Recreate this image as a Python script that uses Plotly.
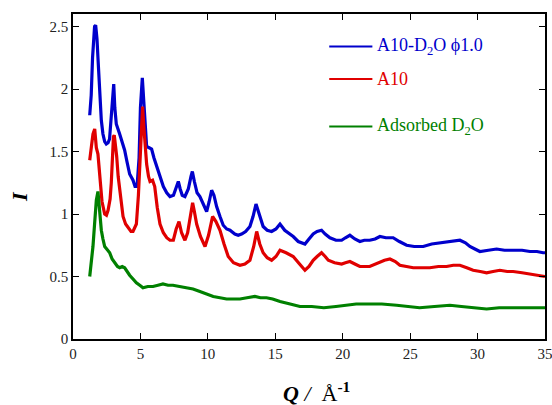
import plotly.graph_objects as go

# A10-D2O phi1.0 (blue)
q_blue = [1.24, 1.35, 1.45, 1.53, 1.60, 1.68, 1.78, 1.85, 1.98, 2.10, 2.22, 2.35, 2.47, 2.60, 2.71, 2.85, 2.95, 3.02, 3.10, 3.21,
          3.46, 3.65, 3.83, 4.00, 4.20, 4.45, 4.60, 4.75, 4.90, 5.00, 5.14, 5.25, 5.36, 5.46, 5.65, 5.83, 6.00, 6.20, 6.45, 6.70,
          6.95, 7.19, 7.45, 7.65, 7.81, 7.95, 8.10, 8.30, 8.55, 8.75, 8.85, 9.00, 9.20, 9.41, 9.65, 9.91, 10.10, 10.28, 10.45, 10.65,
          10.90, 11.14, 11.40, 11.64, 12.0, 12.25, 12.5, 12.8, 13.12, 13.35, 13.57, 13.80, 14.1, 14.4, 14.73, 15.05, 15.35, 15.7, 16.09, 16.33,
          16.7, 17.07, 17.2, 17.5, 17.81, 18.1, 18.43, 18.7, 19.05, 19.5, 19.92, 20.2, 20.53, 20.9, 21.27, 21.6, 22.0, 22.4, 22.76, 23.2,
          23.74, 24.2, 24.74, 25.3, 25.97, 26.6, 27.2, 27.9, 28.69, 29.1, 29.43, 29.8, 30.17, 30.8, 31.41, 32.0, 32.64, 33.3, 33.88, 34.4,
          34.86, 35.0]
i_blue = [1.79, 1.95, 2.25, 2.35, 2.50, 2.51, 2.40, 2.25, 1.94, 1.75, 1.64, 1.58, 1.56, 1.57, 1.60, 1.80, 2.00, 2.04, 1.85, 1.72,
          1.64, 1.58, 1.51, 1.42, 1.32, 1.27, 1.22, 1.22, 1.45, 1.85, 2.09, 1.90, 1.65, 1.54, 1.53, 1.52, 1.45, 1.38, 1.30, 1.22,
          1.17, 1.14, 1.15, 1.22, 1.26, 1.20, 1.15, 1.14, 1.20, 1.30, 1.34, 1.26, 1.17, 1.14, 1.08, 1.02, 1.10, 1.19, 1.15, 1.06,
          0.98, 0.91, 0.88, 0.87, 0.84, 0.83, 0.84, 0.86, 0.90, 0.98, 1.08, 1.00, 0.90, 0.87, 0.86, 0.88, 0.92, 0.87, 0.84, 0.82,
          0.78, 0.76, 0.76, 0.80, 0.84, 0.86, 0.87, 0.84, 0.81, 0.79, 0.79, 0.81, 0.83, 0.80, 0.78, 0.79, 0.79, 0.80, 0.82, 0.81,
          0.81, 0.78, 0.75, 0.74, 0.74, 0.76, 0.77, 0.78, 0.79, 0.77, 0.74, 0.72, 0.70, 0.71, 0.72, 0.71, 0.71, 0.71, 0.70, 0.70,
          0.69, 0.69]

# A10 (red)
q_red = [1.24, 1.35, 1.48, 1.61, 1.73, 1.85, 1.92, 1.98, 2.15, 2.35, 2.48, 2.60, 2.75, 2.84, 2.92, 3.00, 3.06, 3.15, 3.24, 3.35,
         3.48, 3.60, 3.71, 3.90, 4.10, 4.30, 4.45, 4.60, 4.70, 4.85, 4.95, 5.05, 5.16, 5.25, 5.35, 5.46, 5.60, 5.71, 5.90, 6.06,
         6.25, 6.45, 6.70, 6.95, 7.19, 7.44, 7.65, 7.86, 8.05, 8.30, 8.50, 8.70, 8.87, 9.00, 9.17, 9.45, 9.79, 10.05, 10.35, 10.6,
         10.9, 11.2, 11.51, 11.9, 12.38, 12.75, 13.12, 13.4, 13.62, 13.85, 14.1, 14.4, 14.73, 15.05, 15.35, 15.8, 16.33, 16.8, 17.2, 17.5,
         17.81, 18.1, 18.43, 18.7, 18.93, 19.4, 19.92, 20.2, 20.53, 20.9, 21.27, 22.0, 22.4, 22.76, 23.1, 23.5, 23.9, 24.24, 24.7, 25.23,
         25.8, 26.46, 27.1, 27.7, 28.2, 28.69, 29.2, 29.67, 30.2, 30.67, 31.15, 31.65, 32.2, 32.64, 33.3, 33.88, 34.4, 34.86, 35.0]
i_red = [1.43, 1.52, 1.64, 1.68, 1.53, 1.48, 1.38, 1.26, 1.10, 1.00, 0.99, 1.03, 1.12, 1.25, 1.50, 1.62, 1.63, 1.55, 1.46, 1.30,
         1.20, 1.07, 0.98, 0.92, 0.89, 0.86, 0.86, 0.89, 0.92, 1.15, 1.40, 1.70, 1.86, 1.70, 1.52, 1.40, 1.30, 1.26, 1.27, 1.22,
         1.05, 0.92, 0.85, 0.81, 0.79, 0.79, 0.88, 0.94, 0.85, 0.79, 0.85, 1.00, 1.09, 1.02, 0.92, 0.82, 0.74, 0.83, 0.98, 0.94,
         0.87, 0.76, 0.66, 0.61, 0.59, 0.60, 0.63, 0.74, 0.86, 0.76, 0.69, 0.65, 0.63, 0.66, 0.71, 0.69, 0.66, 0.60, 0.55, 0.58,
         0.63, 0.66, 0.69, 0.66, 0.63, 0.61, 0.60, 0.61, 0.62, 0.60, 0.58, 0.58, 0.60, 0.62, 0.63, 0.64, 0.62, 0.59, 0.58, 0.57,
         0.57, 0.57, 0.58, 0.58, 0.59, 0.59, 0.57, 0.55, 0.54, 0.53, 0.54, 0.55, 0.54, 0.54, 0.53, 0.52, 0.51, 0.50, 0.50]

# Adsorbed D2O (green)
q_green = [1.24, 1.36, 1.48, 1.60, 1.73, 1.85, 1.95, 2.10, 2.22, 2.35, 2.50, 2.72, 2.90, 3.09, 3.30, 3.46, 3.65, 3.83, 4.00, 4.20,
           4.45, 4.70, 4.95, 5.19, 5.55, 5.93, 6.30, 6.67, 7.05, 7.41, 7.90, 8.40, 8.9, 9.41, 9.9, 10.4, 10.9, 11.39, 11.9, 12.38,
           12.9, 13.49, 13.9, 14.35, 14.8, 15.35, 16.1, 16.83, 17.7, 18.6, 19.5, 20.3, 21.0, 21.74, 22.9, 24.0, 24.9, 25.7, 26.8, 27.95,
           28.8, 29.67, 30.67, 31.6, 32.64, 33.8, 34.86, 35.0]
i_green = [0.50, 0.62, 0.74, 0.92, 1.11, 1.18, 1.02, 0.87, 0.80, 0.74, 0.72, 0.69, 0.64, 0.61, 0.58, 0.57, 0.58, 0.57, 0.54, 0.51,
           0.48, 0.45, 0.43, 0.41, 0.42, 0.42, 0.43, 0.44, 0.43, 0.43, 0.42, 0.41, 0.40, 0.38, 0.36, 0.34, 0.33, 0.32, 0.32, 0.32,
           0.33, 0.34, 0.33, 0.33, 0.32, 0.30, 0.28, 0.26, 0.26, 0.25, 0.26, 0.27, 0.28, 0.28, 0.28, 0.27, 0.26, 0.25, 0.26, 0.27,
           0.26, 0.25, 0.24, 0.25, 0.25, 0.25, 0.25, 0.25]

x_ticks = [0, 5, 10, 15, 20, 25, 30, 35]
y_ticks = [0, 0.5, 1, 1.5, 2, 2.5]
y_tick_text = ["0", "0.5", "1", "1.5", "2", "2.5"]

BLUE = "#0000CC"
RED = "#E00000"
GREEN = "#008000"
FONT = "Liberation Serif"

fig = go.Figure()
fig.add_trace(go.Scatter(x=q_blue, y=i_blue, mode="lines", line=dict(color=BLUE, width=3.2), name="A10-D2O ϕ1.0"))
fig.add_trace(go.Scatter(x=q_red, y=i_red, mode="lines", line=dict(color=RED, width=3.2), name="A10"))
fig.add_trace(go.Scatter(x=q_green, y=i_green, mode="lines", line=dict(color=GREEN, width=3.2), name="Adsorbed D2O"))

axis_common = dict(showline=True, linecolor="black", linewidth=1.5, mirror="ticks", ticks="inside",
                   ticklen=6, tickwidth=1.2, tickcolor="black", showgrid=False, zeroline=False, automargin=False,
                   ticklabeloverflow="allow", tickfont=dict(family=FONT, size=15, color="#222"))

fig.update_xaxes(range=[0, 35], tickvals=x_ticks, **axis_common)
fig.update_yaxes(range=[0, 2.6], tickvals=y_ticks, ticktext=y_tick_text, **axis_common)

# Axis titles
fig.add_annotation(xref="paper", yref="paper", x=0.515, y=-0.115, xanchor="center", yanchor="top", showarrow=False,
                   text="<b><i>Q</i></b><i> / </i> Å<sup><b>-1</b></sup>", font=dict(family=FONT, size=22, color="black"))
fig.add_annotation(xref="paper", yref="paper", x=-0.112, y=0.437, xanchor="center", yanchor="middle", showarrow=False,
                   textangle=-90, text="<b><i>I</i></b>", font=dict(family=FONT, size=22, color="black"))

# Legend drawn as line segments and labels
legend_items = [("A10-D<sub>2</sub>O ϕ1.0", BLUE, 2.34), ("A10", RED, 2.08), ("Adsorbed D<sub>2</sub>O", GREEN, 1.70)]
for label, col, yv in legend_items:
    fig.add_shape(type="line", xref="x", yref="y", x0=19.0, x1=22.2, y0=yv, y1=yv, line=dict(color=col, width=2))
    fig.add_annotation(x=22.4, y=yv, xref="x", yref="y", text=label, showarrow=False, xanchor="left", yanchor="middle",
                       font=dict(family=FONT, size=18, color=col))

fig.update_layout(width=552, height=405, margin=dict(l=73, r=7, t=14, b=66),
                  plot_bgcolor="white", paper_bgcolor="white", showlegend=False)

fig.write_html("out.html", config={"displayModeBar": False}, post_script="document.body.style.margin='0px';")
